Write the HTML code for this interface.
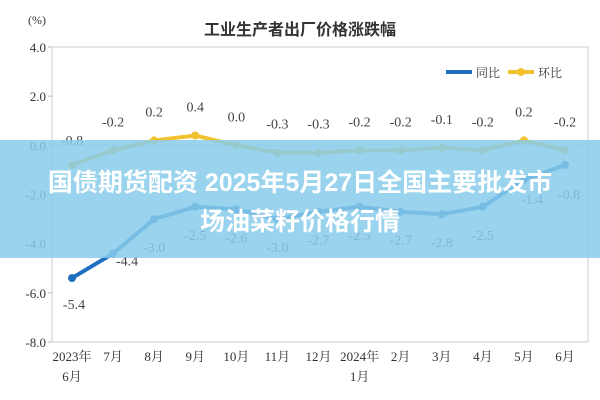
<!DOCTYPE html>
<html><head><meta charset="utf-8"><style>
body{margin:0;width:600px;height:400px;overflow:hidden;background:#fff;font-family:"Liberation Serif","Noto Serif CJK SC",serif}
#banner{position:absolute;left:0;top:140px;width:600px;height:118px;background:rgba(135,203,234,0.85);color:#fff;font-family:"Liberation Sans","Noto Sans CJK SC",sans-serif;font-weight:bold;font-size:25px;text-align:center;line-height:39px;padding-top:24px;box-sizing:border-box;white-space:nowrap}
</style></head><body>
<svg id="c" width="600" height="400" style="position:absolute;left:0;top:0"></svg>
<div id="banner">国债期货配资 2025年5月27日全国主要批发市<br>场油菜籽价格行情</div>
<script>
const cats=["2023年|6月","7月","8月","9月","10月","11月","12月","2024年|1月","2月","3月","4月","5月","6月"];
const yoy=[-5.4,-4.4,-3.0,-2.5,-2.6,-3.0,-2.7,-2.5,-2.7,-2.8,-2.5,-1.4,-0.8];
const mom=[-0.8,-0.2,0.2,0.4,0.0,-0.3,-0.3,-0.2,-0.2,-0.1,-0.2,0.2,-0.2];
const yTicks=[4,2,0,-2,-4,-6,-8];
const svg=document.getElementById('c');const NS="http://www.w3.org/2000/svg";
function mk(t,a,p){const e=document.createElementNS(NS,t);for(const k in a)e.setAttribute(k,a[k]);(p||svg).appendChild(e);return e;}
const L=52,R=588,T=47,B=342;
const y=v=>T+(4-v)*(B-T)/12;
const x=i=>72+i*(565-72)/(cats.length-1);
let e=mk('rect',{x:L,y:T,width:R-L,height:B-T,fill:'none',stroke:'#ccc'});

e=mk('text',{x:300,y:35,'text-anchor':'middle','font-size':16,'font-weight':'bold',fill:'#333','font-family':'"Liberation Sans","Noto Sans CJK SC",sans-serif'});e.textContent='工业生产者出厂价格涨跌幅';

e=mk('text',{x:28,y:24,'font-size':12,fill:'#333'});e.textContent='(%)';

yTicks.forEach(v=>{const t=mk('text',{x:46,y:y(v)+5,'text-anchor':'end','font-size':13,fill:'#333'});t.textContent=v.toFixed(1);

mk('line',{x1:L-4,x2:L,y1:y(v),y2:y(v),stroke:'#bbb'});});
mk('line',{x1:L,x2:R,y1:y(0),y2:y(0),stroke:'#ccc'});
cats.forEach((c,i)=>{const p=c.split('|');p.forEach((s,j)=>{const t=mk('text',{x:x(i),y:361+j*20,'text-anchor':'middle','font-size':13,fill:'#333'});t.textContent=s;
});
if(i<cats.length-1)mk('line',{x1:(x(i)+x(i+1))/2,x2:(x(i)+x(i+1))/2,y1:y(0)-4,y2:y(0)+4,stroke:'#ccc'});});
function series(d,col,name,lab){
const pl=mk('polyline',{points:d.map((v,i)=>x(i)+','+y(v)).join(' '),fill:'none',stroke:col,'stroke-width':4});

d.forEach((v,i)=>{const m=mk('circle',{cx:x(i),cy:y(v),r:4,fill:col});

const t=mk('text',{x:x(i)+lab(i)[0],y:y(v)+lab(i)[1],'text-anchor':'middle','font-size':14,fill:'#444'});t.textContent=v.toFixed(1);
});}
series(mom,'#f2c12e','mom',i=>i==0?[0,-20]:[0,-24]);
series(yoy,'#1f6fc0','yoy',i=>i==0?[2,31]:i==1?[14,12]:i==11?[8,24]:i==12?[4,34]:[0,33]);
e=mk('line',{x1:446,x2:472,y1:72,y2:72,stroke:'#1f6fc0','stroke-width':4});
e=mk('text',{x:476,y:77,'font-size':12,fill:'#333'});e.textContent='同比';
e=mk('line',{x1:508,x2:534,y1:72,y2:72,stroke:'#f2c12e','stroke-width':4});
mk('circle',{cx:521,cy:72,r:4,fill:'#f2c12e'});
e=mk('text',{x:538,y:77,'font-size':12,fill:'#333'});e.textContent='环比';
</script>
</body></html>
